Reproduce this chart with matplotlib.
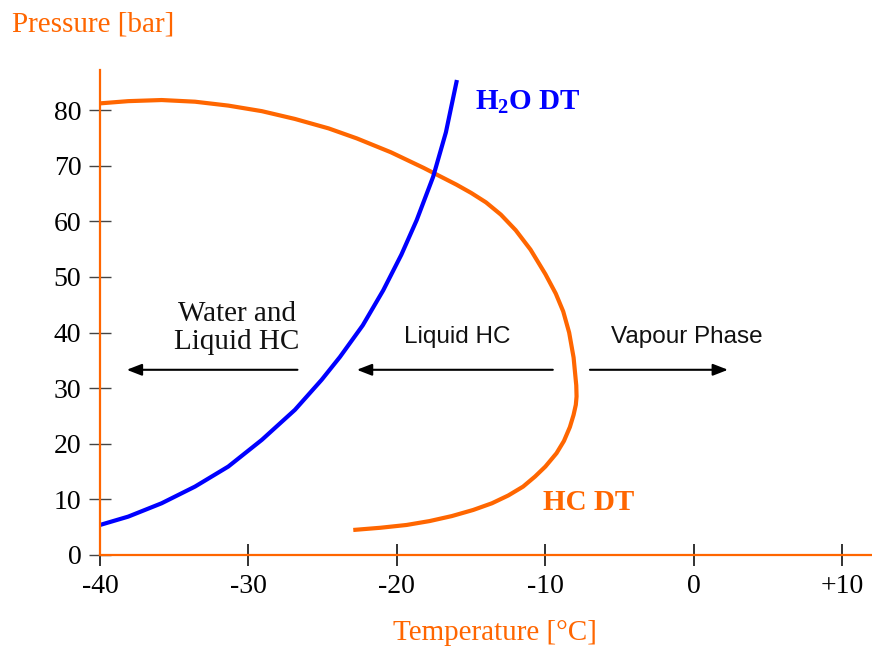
import matplotlib
matplotlib.use("Agg")
import matplotlib.pyplot as plt

# ---- data ----
h2o_T = [-40.0, -38.1, -35.85, -33.6, -31.36, -29.1, -26.87, -25.07, -23.84, -22.3,
         -20.92, -19.7, -18.67, -17.56, -16.7, -15.96]
h2o_P = [5.4, 6.9, 9.3, 12.3, 15.9, 20.7, 26.1, 31.5, 35.6, 41.3,
         47.6, 54.0, 60.2, 68.0, 76.0, 85.4]

hc_T = [-40.0, -38.1, -35.85, -33.6, -31.36, -29.1, -26.87, -24.6, -22.7, -20.4,
        -18.2, -16.0, -15.0, -14.0, -13.0, -12.0, -11.0, -10.0, -9.3, -8.8,
        -8.4, -8.1, -7.92, -7.9, -7.95, -8.1, -8.35, -8.75, -9.25, -10.0,
        -10.7, -11.5, -12.5, -13.6, -14.86, -16.3, -17.8, -19.35, -21.1, -22.94]
hc_P = [81.2, 81.6, 81.8, 81.5, 80.8, 79.8, 78.4, 76.7, 74.9, 72.4,
        69.6, 66.6, 65.1, 63.4, 61.2, 58.4, 54.9, 50.5, 47.0, 43.8,
        40.0, 35.5, 30.5, 28.5, 27.0, 25.2, 23.0, 20.5, 18.3, 15.9,
        14.1, 12.3, 10.7, 9.3, 8.1, 7.0, 6.1, 5.4, 4.9, 4.5]

x_ticks = [-40, -30, -20, -10, 0, 10]
x_tick_labels = ["-40", "-30", "-20", "-10", "0", "+10"]
y_ticks = [0, 10, 20, 30, 40, 50, 60, 70, 80]

ORANGE = "#FF6600"
BLUE = "#0000FF"
SERIF = "Liberation Serif"
SANS = "Liberation Sans"

plt.rcParams["mathtext.fontset"] = "custom"
plt.rcParams["mathtext.rm"] = "Liberation Serif:bold"
plt.rcParams["mathtext.it"] = "Liberation Serif:bold"
plt.rcParams["mathtext.bf"] = "Liberation Serif:bold"

fig = plt.figure(figsize=(8.72, 6.47), dpi=100)
ax = fig.add_axes([100 / 872, 92 / 647, 1 - 100 / 872, (555 - 70) / 647])

ax.plot(hc_T, hc_P, color=ORANGE, lw=3.0, solid_capstyle="butt", solid_joinstyle="round")
ax.plot(h2o_T, h2o_P, color=BLUE, lw=3.0, solid_capstyle="butt", solid_joinstyle="round")

ax.set_xlim(-40, 12)
ax.set_ylim(0, 87.2)

for s in ["top", "right"]:
    ax.spines[s].set_visible(False)
for s in ["left", "bottom"]:
    ax.spines[s].set_color(ORANGE)
    ax.spines[s].set_linewidth(1.6)

ax.set_xticks(x_ticks)
ax.set_xticklabels(x_tick_labels, fontfamily=SERIF, fontsize=20)
ax.set_yticks(y_ticks)
ax.set_yticklabels([str(v) for v in y_ticks], fontfamily=SERIF, fontsize=20)
ax.tick_params(axis="x", direction="inout", length=16, width=1.3, color="#222222", pad=5.5)
ax.tick_params(axis="y", direction="inout", length=16, width=1.0, color="#444444", pad=5.5)

# Arrows
arrow_kw = dict(arrowstyle="-|>,head_length=0.9,head_width=0.35", color="black", lw=1.5,
                shrinkA=0, shrinkB=0)
ax.annotate("", xy=(-38.2, 33.3), xytext=(-26.7, 33.3), arrowprops=arrow_kw)
ax.annotate("", xy=(-22.7, 33.3), xytext=(-9.5, 33.3), arrowprops=arrow_kw)
ax.annotate("", xy=(2.3, 33.3), xytext=(-7.0, 33.3), arrowprops=arrow_kw)

ax.text(-30.8, 40.8, "Water and\nLiquid HC", ha="center", va="center",
        fontfamily=SERIF, fontsize=21, linespacing=1.1, color="#111111")
ax.text(-15.96, 39.2, "Liquid HC", ha="center", va="center",
        fontfamily=SANS, fontsize=17.5, color="#111111")
ax.text(-0.47, 39.2, "Vapour Phase", ha="center", va="center",
        fontfamily=SANS, fontsize=17.5, color="#111111")

ax.text(-14.75, 81.4, r"H$_{2}$O DT", ha="left", va="center",
        fontfamily=SERIF, fontweight="bold", fontsize=21, color=BLUE)
ax.text(-10.17, 9.35, "HC DT", ha="left", va="center",
        fontfamily=SERIF, fontweight="bold", fontsize=21, color=ORANGE)

fig.text(12 / 872, 1 - 25 / 647, "Pressure [bar]", ha="left", va="center",
         fontfamily=SERIF, fontsize=21, color=ORANGE)
fig.text(495 / 872, 1 - 633 / 647, "Temperature [°C]", ha="center", va="center",
         fontfamily=SERIF, fontsize=21, color=ORANGE)

fig.savefig("out.png", dpi=100)
